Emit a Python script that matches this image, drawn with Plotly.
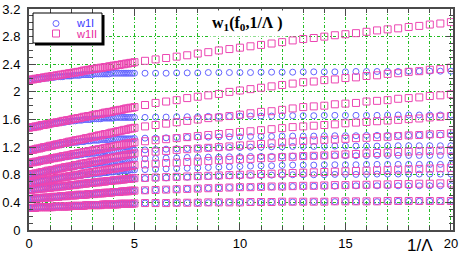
import plotly.graph_objects as go

# x values (1/Lambda): dense 0..5 step 0.1, then 5.5..20 step 0.5
lam_inv = [0.0,0.1,0.2,0.3,0.4,0.5,0.6,0.7,0.8,0.9,
           1.0,1.1,1.2,1.3,1.4,1.5,1.6,1.7,1.8,1.9,
           2.0,2.1,2.2,2.3,2.4,2.5,2.6,2.7,2.8,2.9,
           3.0,3.1,3.2,3.3,3.4,3.5,3.6,3.7,3.8,3.9,
           4.0,4.1,4.2,4.3,4.4,4.5,4.6,4.7,4.8,4.9,
           5.0,
           5.5,6.0,6.5,7.0,7.5,8.0,8.5,9.0,9.5,10.0,
           10.5,11.0,11.5,12.0,12.5,13.0,13.5,14.0,14.5,15.0,
           15.5,16.0,16.5,17.0,17.5,18.0,18.5,19.0,19.5,20.0]

# ---- w1II (squares) ----
w1II_1 = [2.17,2.18,2.18,2.19,2.19,2.20,2.20,2.21,2.21,2.22, 2.22,2.23,2.23,2.24,2.24,2.25,2.25,2.26,2.26,2.27,
          2.27,2.28,2.28,2.29,2.29,2.30,2.31,2.31,2.32,2.32, 2.33,2.33,2.34,2.34,2.35,2.35,2.36,2.36,2.37,2.37,
          2.38,2.38,2.39,2.39,2.40,2.40,2.41,2.41,2.42,2.42, 2.43,
          2.45,2.47,2.49,2.51,2.53,2.555,2.575,2.60,2.62,2.64, 2.66,2.68,2.70,2.72,2.745,2.765,2.78,2.80,2.82,2.835,
          2.85,2.87,2.89,2.905,2.92,2.94,2.955,2.975,2.99,3.01]
w1II_2 = [1.48,1.49,1.49,1.50,1.50,1.51,1.52,1.52,1.53,1.53, 1.54,1.55,1.55,1.56,1.56,1.57,1.58,1.58,1.59,1.59,
          1.60,1.61,1.61,1.62,1.62,1.63,1.64,1.64,1.65,1.65, 1.66,1.67,1.67,1.68,1.68,1.69,1.70,1.70,1.71,1.71,
          1.72,1.73,1.73,1.74,1.74,1.75,1.76,1.76,1.77,1.77, 1.78,
          1.81,1.84,1.86,1.88,1.91,1.93,1.95,1.97,2.00,2.02, 2.04,2.06,2.08,2.10,2.12,2.14,2.15,2.17,2.18,2.20,
          2.21,2.23,2.24,2.26,2.27,2.29,2.30,2.32,2.33,2.35]
w1II_3 = [1.15,1.16,1.16,1.17,1.18,1.18,1.19,1.20,1.20,1.21, 1.22,1.22,1.23,1.24,1.24,1.25,1.26,1.26,1.27,1.28,
          1.28,1.29,1.30,1.30,1.31,1.31,1.32,1.33,1.33,1.34, 1.35,1.35,1.36,1.37,1.37,1.38,1.39,1.39,1.40,1.41,
          1.41,1.42,1.43,1.43,1.44,1.45,1.45,1.46,1.47,1.47, 1.48,
          1.50,1.52,1.54,1.56,1.58,1.60,1.62,1.63,1.65,1.67, 1.69,1.71,1.72,1.74,1.76,1.78,1.79,1.80,1.82,1.83,
          1.84,1.86,1.87,1.88,1.90,1.91,1.92,1.94,1.95,1.965]
w1II_4 = [0.97,0.98,0.98,0.99,0.99,1.00,1.01,1.01,1.02,1.02, 1.03,1.04,1.04,1.05,1.05,1.06,1.07,1.07,1.08,1.08,
          1.09,1.10,1.10,1.11,1.11,1.12,1.13,1.13,1.14,1.14, 1.15,1.16,1.16,1.17,1.17,1.18,1.19,1.19,1.20,1.20,
          1.21,1.22,1.22,1.23,1.23,1.24,1.25,1.25,1.26,1.26, 1.27,
          1.285,1.30,1.315,1.33,1.345,1.36,1.375,1.39,1.405,1.42, 1.43,1.445,1.46,1.475,1.49,1.50,1.51,1.52,1.53,1.545,
          1.555,1.565,1.575,1.585,1.595,1.605,1.615,1.63,1.64,1.65]
w1II_5 = [0.80,0.81,0.81,0.82,0.82,0.83,0.84,0.84,0.85,0.86, 0.86,0.87,0.87,0.88,0.89,0.89,0.90,0.91,0.91,0.92,
          0.92,0.93,0.94,0.94,0.95,0.96,0.96,0.97,0.97,0.98, 0.99,0.99,1.00,1.00,1.01,1.02,1.02,1.03,1.04,1.04,
          1.05,1.05,1.06,1.07,1.07,1.08,1.09,1.09,1.10,1.10, 1.11,
          1.12,1.135,1.145,1.16,1.17,1.18,1.19,1.20,1.21,1.225, 1.235,1.245,1.255,1.27,1.28,1.29,1.295,1.305,1.31,1.32,
          1.33,1.335,1.345,1.35,1.36,1.37,1.375,1.385,1.39,1.40]
w1II_6 = [0.68,0.69,0.69,0.70,0.70,0.71,0.71,0.72,0.72,0.73, 0.73,0.74,0.74,0.75,0.75,0.76,0.76,0.77,0.77,0.78,
          0.78,0.79,0.79,0.80,0.80,0.81,0.82,0.82,0.83,0.83, 0.84,0.84,0.85,0.85,0.86,0.86,0.87,0.87,0.88,0.88,
          0.89,0.89,0.90,0.90,0.91,0.91,0.92,0.92,0.93,0.93, 0.94,
          0.95,0.96,0.97,0.975,0.985,0.99,1.00,1.01,1.015,1.025, 1.03,1.04,1.045,1.055,1.06,1.07,1.075,1.08,1.09,1.095,
          1.10,1.11,1.115,1.12,1.13,1.135,1.14,1.145,1.15,1.155]
w1II_7 = [0.58,0.58,0.59,0.59,0.59,0.60,0.60,0.60,0.61,0.61, 0.61,0.62,0.62,0.62,0.63,0.63,0.63,0.64,0.64,0.64,
          0.65,0.65,0.65,0.66,0.66,0.67,0.67,0.67,0.68,0.68, 0.68,0.69,0.69,0.69,0.70,0.70,0.70,0.71,0.71,0.71,
          0.72,0.72,0.72,0.73,0.73,0.73,0.74,0.74,0.74,0.75, 0.75,
          0.755,0.76,0.765,0.77,0.775,0.78,0.785,0.79,0.795,0.80, 0.805,0.81,0.815,0.82,0.825,0.83,0.835,0.84,0.845,0.85,
          0.855,0.86,0.865,0.87,0.875,0.88,0.885,0.89,0.895,0.90]
w1II_8 = [0.45,0.45,0.45,0.46,0.46,0.46,0.46,0.47,0.47,0.47, 0.47,0.48,0.48,0.48,0.48,0.49,0.49,0.49,0.49,0.50,
          0.50,0.50,0.50,0.51,0.51,0.51,0.51,0.51,0.52,0.52, 0.52,0.52,0.53,0.53,0.53,0.53,0.54,0.54,0.54,0.54,
          0.55,0.55,0.55,0.55,0.56,0.56,0.56,0.56,0.57,0.57, 0.57,
          0.575,0.58,0.585,0.59,0.595,0.60,0.605,0.61,0.615,0.62, 0.62,0.625,0.63,0.63,0.635,0.64,0.64,0.645,0.65,0.65,
          0.655,0.655,0.66,0.66,0.665,0.665,0.67,0.67,0.675,0.675]
w1II_9 = [0.32,0.32,0.32,0.32,0.33,0.33,0.33,0.33,0.33,0.33, 0.33,0.33,0.34,0.34,0.34,0.34,0.34,0.34,0.34,0.34,
          0.35,0.35,0.35,0.35,0.35,0.35,0.35,0.36,0.36,0.36, 0.36,0.36,0.36,0.36,0.36,0.37,0.37,0.37,0.37,0.37,
          0.37,0.37,0.37,0.38,0.38,0.38,0.38,0.38,0.38,0.38, 0.385,
          0.39,0.39,0.39,0.395,0.395,0.395,0.40,0.40,0.40,0.40, 0.405,0.405,0.405,0.41,0.41,0.41,0.41,0.41,0.415,0.415,
          0.415,0.415,0.415,0.42,0.42,0.42,0.42,0.42,0.42,0.42]

# ---- w1I (circles) ----
w1I_1 = [2.17,2.17,2.18,2.18,2.19,2.19,2.19,2.20,2.20,2.20, 2.21,2.21,2.21,2.22,2.22,2.22,2.22,2.23,2.23,2.23,
         2.23,2.24,2.24,2.24,2.24,2.25,2.25,2.25,2.25,2.25, 2.25,2.26,2.26,2.26,2.26,2.26,2.26,2.26,2.26,2.27,
         2.27,2.27,2.27,2.27,2.27,2.27,2.27,2.27,2.27,2.27, 2.27,
         2.27,2.27,2.27,2.275,2.275,2.275,2.28,2.28,2.28,2.28, 2.28,2.285,2.285,2.285,2.285,2.29,2.29,2.29,2.29,2.29,
         2.295,2.295,2.295,2.295,2.295,2.30,2.30,2.30,2.30,2.30]
w1I_2 = [1.48,1.49,1.49,1.50,1.50,1.51,1.51,1.52,1.52,1.53, 1.53,1.54,1.54,1.55,1.55,1.56,1.56,1.56,1.57,1.57,
         1.58,1.58,1.58,1.59,1.59,1.59,1.60,1.60,1.60,1.60, 1.61,1.61,1.61,1.61,1.61,1.62,1.62,1.62,1.62,1.62,
         1.62,1.63,1.63,1.63,1.63,1.63,1.63,1.63,1.63,1.63, 1.63,
         1.63,1.635,1.635,1.64,1.64,1.64,1.645,1.645,1.645,1.65, 1.65,1.65,1.65,1.655,1.655,1.655,1.655,1.66,1.66,1.66,
         1.66,1.66,1.66,1.665,1.665,1.665,1.665,1.665,1.665,1.665]
w1I_3 = [1.15,1.16,1.16,1.17,1.18,1.18,1.19,1.20,1.20,1.21, 1.21,1.22,1.22,1.23,1.23,1.24,1.24,1.25,1.25,1.26,
         1.26,1.27,1.27,1.27,1.28,1.28,1.28,1.29,1.29,1.29, 1.30,1.30,1.30,1.30,1.31,1.31,1.31,1.31,1.31,1.32,
         1.32,1.32,1.32,1.32,1.32,1.32,1.32,1.32,1.32,1.32, 1.325,
         1.33,1.33,1.335,1.34,1.34,1.345,1.345,1.35,1.35,1.35, 1.355,1.355,1.355,1.36,1.36,1.36,1.36,1.365,1.365,1.365,
         1.365,1.37,1.37,1.37,1.37,1.37,1.375,1.375,1.375,1.375]
w1I_4 = [0.97,0.98,0.98,0.99,0.99,1.00,1.00,1.01,1.02,1.02, 1.03,1.03,1.04,1.04,1.05,1.05,1.05,1.06,1.06,1.07,
         1.07,1.08,1.08,1.08,1.09,1.09,1.10,1.10,1.10,1.11, 1.11,1.11,1.12,1.12,1.12,1.12,1.13,1.13,1.13,1.14,
         1.14,1.14,1.14,1.14,1.15,1.15,1.15,1.15,1.15,1.16, 1.16,
         1.16,1.165,1.17,1.175,1.18,1.185,1.19,1.19,1.195,1.195, 1.20,1.20,1.205,1.205,1.21,1.21,1.21,1.21,1.215,1.215,
         1.215,1.215,1.215,1.22,1.22,1.22,1.22,1.22,1.22,1.22]
w1I_5 = [0.80,0.81,0.81,0.82,0.82,0.83,0.84,0.84,0.85,0.85, 0.86,0.86,0.87,0.88,0.88,0.89,0.89,0.90,0.90,0.91,
         0.91,0.92,0.92,0.93,0.93,0.93,0.94,0.94,0.95,0.95, 0.96,0.96,0.96,0.97,0.97,0.98,0.98,0.98,0.99,0.99,
         0.99,1.00,1.00,1.00,1.01,1.01,1.01,1.02,1.02,1.02, 1.03,
         1.03,1.035,1.04,1.045,1.05,1.05,1.055,1.055,1.06,1.06, 1.065,1.065,1.065,1.07,1.07,1.07,1.07,1.075,1.075,1.075,
         1.075,1.075,1.08,1.08,1.08,1.08,1.08,1.08,1.08,1.08]
w1I_6 = [0.68,0.69,0.69,0.70,0.70,0.71,0.71,0.72,0.72,0.73, 0.73,0.73,0.74,0.74,0.75,0.75,0.76,0.76,0.77,0.77,
         0.77,0.78,0.78,0.79,0.79,0.79,0.80,0.80,0.80,0.81, 0.81,0.81,0.82,0.82,0.82,0.83,0.83,0.83,0.84,0.84,
         0.84,0.85,0.85,0.85,0.86,0.86,0.86,0.86,0.87,0.87, 0.87,
         0.875,0.88,0.885,0.89,0.895,0.90,0.905,0.91,0.915,0.92, 0.925,0.93,0.93,0.935,0.94,0.94,0.94,0.945,0.945,0.945,
         0.945,0.95,0.95,0.95,0.95,0.95,0.95,0.95,0.95,0.95]
w1I_7 = [0.58,0.58,0.59,0.59,0.59,0.60,0.60,0.60,0.61,0.61, 0.61,0.62,0.62,0.62,0.63,0.63,0.63,0.64,0.64,0.64,
         0.65,0.65,0.65,0.66,0.66,0.66,0.67,0.67,0.67,0.68, 0.68,0.68,0.69,0.69,0.69,0.70,0.70,0.70,0.71,0.71,
         0.71,0.72,0.72,0.72,0.72,0.73,0.73,0.73,0.74,0.74, 0.74,
         0.745,0.75,0.755,0.76,0.765,0.77,0.775,0.78,0.785,0.785, 0.79,0.79,0.795,0.795,0.80,0.80,0.80,0.80,0.805,0.805,
         0.805,0.805,0.81,0.81,0.81,0.81,0.81,0.81,0.81,0.81]
w1I_8 = [0.45,0.45,0.45,0.46,0.46,0.46,0.46,0.47,0.47,0.47, 0.47,0.48,0.48,0.48,0.48,0.49,0.49,0.49,0.49,0.50,
         0.50,0.50,0.50,0.51,0.51,0.51,0.51,0.51,0.52,0.52, 0.52,0.52,0.53,0.53,0.53,0.53,0.54,0.54,0.54,0.54,
         0.55,0.55,0.55,0.55,0.56,0.56,0.56,0.56,0.57,0.57, 0.57,
         0.57,0.58,0.585,0.59,0.595,0.60,0.605,0.61,0.615,0.62, 0.62,0.625,0.625,0.63,0.63,0.63,0.635,0.635,0.635,0.64,
         0.64,0.64,0.64,0.64,0.64,0.64,0.64,0.64,0.64,0.64]
w1I_9 = [0.32,0.32,0.32,0.32,0.33,0.33,0.33,0.33,0.33,0.33, 0.33,0.33,0.34,0.34,0.34,0.34,0.34,0.34,0.34,0.34,
         0.35,0.35,0.35,0.35,0.35,0.35,0.35,0.36,0.36,0.36, 0.36,0.36,0.36,0.36,0.36,0.37,0.37,0.37,0.37,0.37,
         0.37,0.37,0.37,0.38,0.38,0.38,0.38,0.38,0.38,0.38, 0.385,
         0.39,0.39,0.39,0.39,0.395,0.395,0.395,0.40,0.40,0.40, 0.40,0.40,0.405,0.405,0.405,0.405,0.41,0.41,0.41,0.41,
         0.41,0.41,0.41,0.41,0.415,0.415,0.415,0.415,0.415,0.415]

w1I_curves = [w1I_1, w1I_2, w1I_3, w1I_4, w1I_5, w1I_6, w1I_7, w1I_8, w1I_9]
w1II_curves = [w1II_1, w1II_2, w1II_3, w1II_4, w1II_5, w1II_6, w1II_7, w1II_8, w1II_9]

series_names = ["w1I", "w1II"]
x_ticks = [0, 5, 10, 15, 20]
y_ticks = [0, 0.4, 0.8, 1.2, 1.6, 2.0, 2.4, 2.8, 3.2]

BLUE = "#6464ff"
PINK = "#ec46b2"
BLUE_TXT = "#3a3aff"
PINK_TXT = "#e82a9e"
GRID = "#22bb22"
AX = "#4a4a4a"

def flatten(curves):
    xs, ys = [], []
    for c in curves:
        xs += lam_inv
        ys += c
    return xs, ys

x1, y1 = flatten(w1I_curves)
x2, y2 = flatten(w1II_curves)

fig = go.Figure()
fig.add_trace(go.Scatter(
    x=x1, y=y1, mode="markers", name=series_names[0], showlegend=False,
    marker=dict(symbol="circle-open", size=6, color=BLUE, line=dict(width=1, color=BLUE)),
))
fig.add_trace(go.Scatter(
    x=x2, y=y2, mode="markers", name=series_names[1], showlegend=False,
    marker=dict(symbol="square-open", size=7, color=PINK, line=dict(width=1, color=PINK)),
))

L, R, T, B = 29, 18, 9, 30
W, H = 471, 260
pw, ph = W - L - R, H - T - B

def px(xp):
    return (xp - L) / pw

def py(yp):
    return (H - B - yp) / ph

# legend box (with drop shadow) drawn in paper coordinates
shapes = [
    dict(type="rect", xref="paper", yref="paper", x0=px(35), x1=px(104.5), y0=py(45.5), y1=py(15),
         fillcolor="black", line=dict(width=0), layer="above"),
    dict(type="rect", xref="paper", yref="paper", x0=px(33), x1=px(102), y0=py(43), y1=py(13),
         fillcolor="white", line=dict(width=1, color="black"), layer="above"),
    dict(type="circle", xref="paper", yref="paper", x0=px(53), x1=px(59), y0=py(26.5), y1=py(20.5),
         line=dict(width=1, color=BLUE), fillcolor="rgba(0,0,0,0)", layer="above"),
    dict(type="rect", xref="paper", yref="paper", x0=px(52.5), x1=px(59.5), y0=py(37), y1=py(30),
         line=dict(width=1, color=PINK), fillcolor="rgba(0,0,0,0)", layer="above"),
]

annotations = [
    dict(text=series_names[0], xref="paper", yref="paper", x=px(74), y=py(23),
         xanchor="left", yanchor="middle", showarrow=False,
         font=dict(family="Liberation Sans, Arial, sans-serif", size=11, color=BLUE_TXT)),
    dict(text=series_names[1], xref="paper", yref="paper", x=px(74), y=py(34),
         xanchor="left", yanchor="middle", showarrow=False,
         font=dict(family="Liberation Sans, Arial, sans-serif", size=11, color=PINK_TXT)),
    dict(text="<b>w<sub>1</sub>(f<sub>0</sub>,1/Λ )</b>", xref="paper", yref="paper",
         x=px(247), y=py(24), xanchor="center", yanchor="middle", showarrow=False,
         font=dict(family="Liberation Serif, Times New Roman, serif", size=16, color="black"),
         bgcolor="white", borderpad=3),
    dict(text="1/Λ", xref="paper", yref="paper", x=px(420), y=py(245),
         xanchor="center", yanchor="middle", showarrow=False,
         font=dict(family="Liberation Sans, Arial, sans-serif", size=17, color="black")),
]

fig.update_layout(
    width=W, height=H,
    margin=dict(l=L, r=R, t=T, b=B, pad=0, autoexpand=False),
    paper_bgcolor="white", plot_bgcolor="white",
    font=dict(family="Liberation Sans, Arial, sans-serif", size=13, color="black"),
    showlegend=False,
    shapes=shapes,
    annotations=annotations,
)

fig.update_xaxes(
    range=[0, 20.1], showline=True, linecolor=AX, linewidth=2, mirror="ticks",
    ticks="inside", ticklen=7, tickwidth=1, tickcolor=AX, automargin=False,
    tickvals=x_ticks, ticktext=[str(v) for v in x_ticks],
    showgrid=True, gridcolor=GRID, griddash="3px,2px,1px,2px", gridwidth=1,
    minor=dict(dtick=1, tick0=0, ticks="inside", ticklen=4, tickcolor=AX,
               showgrid=True, gridcolor=GRID, griddash="3px,2px,1px,2px", gridwidth=1),
    zeroline=False, tickfont=dict(size=13),
)
fig.update_yaxes(
    range=[0, 3.2], showline=True, linecolor=AX, linewidth=2, mirror="ticks",
    ticks="inside", ticklen=7, tickwidth=1, tickcolor=AX, automargin=False,
    tickvals=y_ticks, ticktext=[("%g" % v) for v in y_ticks],
    showgrid=True, gridcolor=GRID, griddash="3px,2px,1px,2px", gridwidth=1,
    minor=dict(dtick=0.1, tick0=0, ticks="inside", ticklen=4, tickcolor=AX, showgrid=False),
    zeroline=False, tickfont=dict(size=13), ticklabelstandoff=4,
)

fig.write_html("out.html", config={"displayModeBar": False},
               post_script="document.body.style.margin='0';")
